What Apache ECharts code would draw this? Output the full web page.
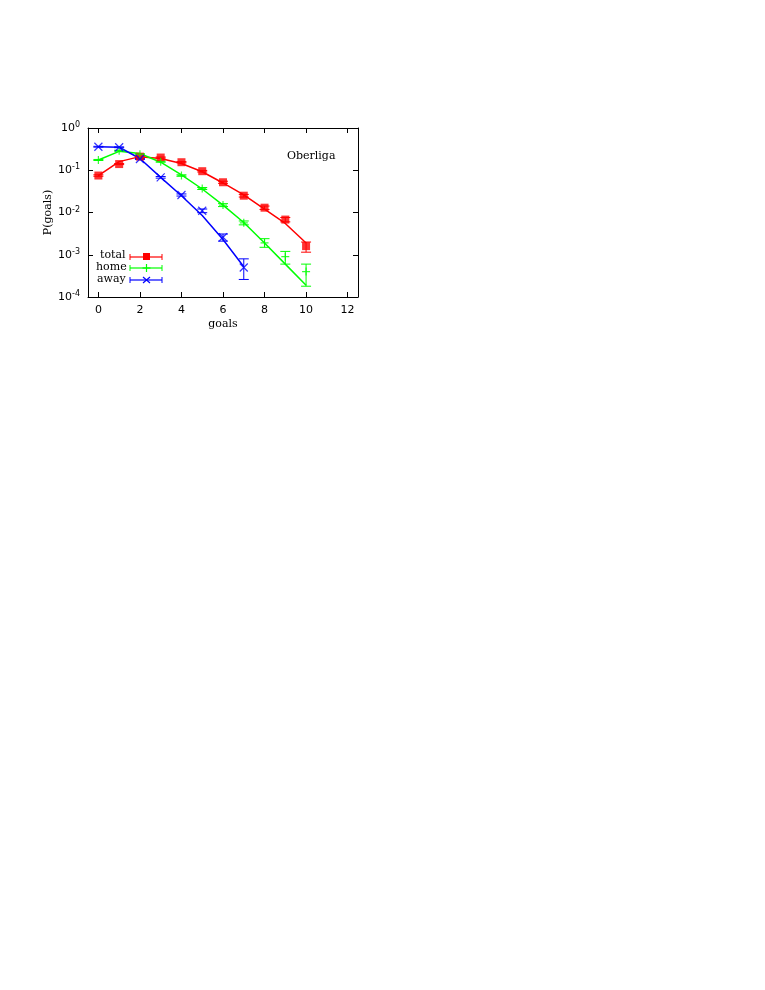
<!DOCTYPE html>
<html><head><meta charset="utf-8">
<script src="https://cdn.jsdelivr.net/npm/echarts@6/dist/echarts.min.js"></script>
<style>html,body{margin:0;padding:0;background:#fff}#c{width:765px;height:990px}</style>
</head><body><div id="c"></div>
<script>
const goals = [0,1,2,3,4,5,6,7,8,9,10];
const totalData = [0.075,0.14,0.21,0.20,0.155,0.095,0.052,0.025,0.013,0.0068,0.0016];
const totalErrLo = [0.072,0.136,0.204,0.194,0.15,0.091,0.049,0.0232,0.0118,0.006,0.00115];
const totalErrHi = [0.078,0.144,0.216,0.206,0.16,0.099,0.055,0.0268,0.0142,0.0076,0.002];
const totalFit = [0.075,0.16,0.21,0.19,0.145,0.092,0.05,0.026,0.012,0.0055,0.0019];
const homeData = [0.175,0.29,0.24,0.16,0.075,0.037,0.015,0.0057,0.0019,0.0009,0.0004];
const homeErrLo = [0.17,0.283,0.233,0.155,0.072,0.035,0.0138,0.0051,0.0015,0.0006,0.00018];
const homeErrHi = [0.18,0.297,0.247,0.165,0.078,0.039,0.0162,0.0063,0.0024,0.0012,0.0006];
const homeFit = [0.175,0.28,0.25,0.155,0.078,0.036,0.015,0.0058,0.0019,0.0006,0.00019];
const awayData = [0.36,0.35,0.185,0.068,0.026,0.011,0.0026,0.0005];
const awayErrLo = [0.352,0.342,0.18,0.065,0.0245,0.0099,0.0021,0.00026];
const awayErrHi = [0.368,0.358,0.19,0.071,0.0275,0.0121,0.0031,0.0008];
const awayFit = [0.36,0.35,0.19,0.068,0.025,0.0085,0.0023,0.00052];

const RED='#ff0000', GREEN='#00ff00', BLUE='#0000ff';
const serif = '"DejaVu Serif","Liberation Serif",serif';

function errSeries(lo, hi, color){
  return {type:'custom', z:3, data: lo.map((v,i)=>[goals[i], v, hi[i]]),
    renderItem(params, api){
      const x=api.value(0);
      const a=api.coord([x, api.value(1)]), b=api.coord([x, api.value(2)]);
      const w=5;
      return {type:'group', children:[
        {type:'line', shape:{x1:a[0],y1:a[1],x2:b[0],y2:b[1]}, style:{stroke:color,lineWidth:1}},
        {type:'line', shape:{x1:a[0]-w,y1:a[1],x2:a[0]+w,y2:a[1]}, style:{stroke:color,lineWidth:1}},
        {type:'line', shape:{x1:b[0]-w,y1:b[1],x2:b[0]+w,y2:b[1]}, style:{stroke:color,lineWidth:1}}
      ]};
    }};
}
function fit(vals,color){return {type:'line', data: vals.map((v,i)=>[goals[i],v]), symbol:'none', lineStyle:{color, width:1.5}, z:2};}
function pts(vals,color,symbol,size){return {type:'scatter', data: vals.map((v,i)=>[goals[i],v]), symbol, symbolSize:size, itemStyle:{color}, z:4};}
const plusPath='path://M5,0L5,10M0,5L10,5';
const crossPath='path://M0,0L10,10M10,0L0,10';
function sym(vals,color,path){return {type:'scatter', data: vals.map((v,i)=>[goals[i],v]), symbol:path, symbolSize:8, itemStyle:{color:'none',borderColor:color,borderWidth:1.2}, z:4};}

const chart = echarts.init(document.getElementById('c'));
const axisLine={show:true,onZero:false,lineStyle:{color:'#000',width:1}};
const xt=[0,2,4,6,8,10,12];
chart.setOption({
  animation:false,
  grid:{left:88, top:128, width:270, height:169},
  xAxis:[{type:'value', min:-0.5, max:12.5, axisLine,
      axisLabel:{color:'#000',fontSize:11,fontFamily:'DejaVu Sans',customValues:xt},
      axisTick:{inside:true,length:5,customValues:xt,lineStyle:{color:'#000'}},
      splitLine:{show:false}, name:'goals', nameLocation:'middle', nameGap:22,
      nameTextStyle:{fontFamily:serif,fontSize:11,color:'#000'}},
    {type:'value', position:'top', min:-0.5, max:12.5, axisLine, axisLabel:{show:false},
      axisTick:{inside:true,length:5,customValues:xt,lineStyle:{color:'#000'}}, splitLine:{show:false}}],
  yAxis:[{type:'log', min:1e-4, max:1, logBase:10, position:'left', axisLine,
      axisTick:{inside:true,length:5,lineStyle:{color:'#000'}},
      splitLine:{show:false},
      axisLabel:{color:'#000', formatter:v=>'10{s|'+Math.round(Math.log10(v))+'}',
        fontFamily:'DejaVu Sans',fontSize:11, rich:{s:{fontSize:8,verticalAlign:'top',padding:[0,0,6,0],fontFamily:'DejaVu Sans'}}},
      name:'P(goals)', nameLocation:'middle', nameGap:34, nameRotate:90,
      nameTextStyle:{fontFamily:serif,fontSize:11,color:'#000'}},
    {type:'log', min:1e-4, max:1, position:'right', axisLine, axisLabel:{show:false},
      axisTick:{inside:true,length:5,lineStyle:{color:'#000'}}, splitLine:{show:false}}],
  series:[
    fit(totalFit,RED), fit(homeFit,GREEN), fit(awayFit,BLUE),
    errSeries(totalErrLo,totalErrHi,RED), errSeries(homeErrLo,homeErrHi,GREEN), errSeries(awayErrLo,awayErrHi,BLUE),
    pts(totalData,RED,'rect',8), sym(homeData,GREEN,plusPath), sym(awayData,BLUE,crossPath)
  ],
  graphic:[
    {type:'text', left:287, top:151, style:{text:'Oberliga', font:'11px '+serif, fill:'#000'}},
    {type:'text', left:100, top:250, style:{text:'total', font:'11px '+serif, fill:'#000'}},
    {type:'text', left:96, top:262, style:{text:'home', font:'11px '+serif, fill:'#000'}},
    {type:'text', left:97, top:274, style:{text:'away', font:'11px '+serif, fill:'#000'}},
    ...[[RED,257],[GREEN,268],[BLUE,280]].map(([c,y])=>({type:'group', children:[
      {type:'line', shape:{x1:130,y1:y,x2:162,y2:y}, style:{stroke:c,lineWidth:1.2}},
      {type:'line', shape:{x1:130,y1:y-3,x2:130,y2:y+3}, style:{stroke:c,lineWidth:1}},
      {type:'line', shape:{x1:162,y1:y-3,x2:162,y2:y+3}, style:{stroke:c,lineWidth:1}}]})),
    {type:'rect', shape:{x:143,y:253,width:7,height:7}, style:{fill:RED}},
    {type:'line', shape:{x1:146.5,y1:264,x2:146.5,y2:272}, style:{stroke:GREEN,lineWidth:1.2}},
    {type:'line', shape:{x1:142.5,y1:268,x2:150.5,y2:268}, style:{stroke:GREEN,lineWidth:1.2}},
    {type:'line', shape:{x1:143,y1:277,x2:150,y2:283}, style:{stroke:BLUE,lineWidth:1.2}},
    {type:'line', shape:{x1:150,y1:277,x2:143,y2:283}, style:{stroke:BLUE,lineWidth:1.2}}
  ]
});
</script></body></html>
